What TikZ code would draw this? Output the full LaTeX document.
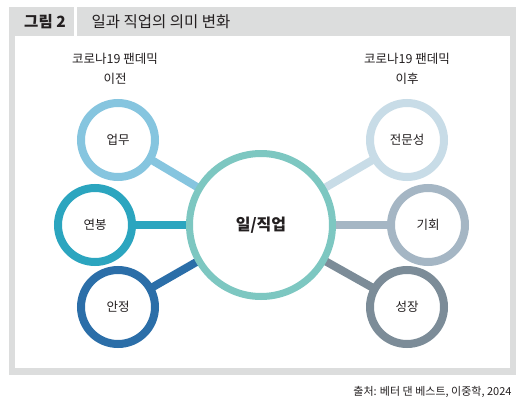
\documentclass[tikz,border=0pt]{standalone}
\usepackage{fontspec}
\setmainfont{Noto Sans CJK KR}
\usetikzlibrary{backgrounds}

\definecolor{framegray}{HTML}{DCDDDD}
\definecolor{textblack}{HTML}{231F20}
\definecolor{workteal}{HTML}{7DC7C1}
\definecolor{dutyblue}{HTML}{86C5DF}
\definecolor{payteal}{HTML}{2BA5BF}
\definecolor{safeblue}{HTML}{2B6EA8}
\definecolor{skillgray}{HTML}{C8DCE7}
\definecolor{chancegray}{HTML}{A5B6C4}
\definecolor{growgray}{HTML}{7C8C98}

\tikzset{
  ring/.style={circle, draw, fill=white, line width=8pt, minimum size=74pt,
    inner sep=0pt, text=textblack, font=\fontsize{12.5}{15}\selectfont},
  link/.style={line width=8pt},
  period/.style={align=center, text=textblack, font=\fontsize{12.5}{20}\selectfont},
}

\begin{document}
\begin{tikzpicture}[x=1pt, y=-1pt]
  \useasboundingbox (0,0) rectangle (519,404);

  % frame
  \begin{pgfonlayer}{background}
    \fill[framegray] (9,7) rectangle (516,375);
    \fill[white] (15,36) rectangle (510,368);
    \fill[white] (74,7) rectangle (77,36);
  \end{pgfonlayer}
  \node[text=textblack, font=\fontsize{15.5}{18}\selectfont\bfseries] (fig) at (45,22) {그림 2};
  \node[anchor=west, text=textblack, font=\fontsize{15.5}{18}\selectfont] (title) at (88,22) {일과 직업의 의미 변화};

  % before / after
  \node[period] (before) at (115,68.5) {코로나19 팬데믹\\이전};
  \node[period] (after) at (407,68.5) {코로나19 팬데믹\\이후};

  % circles
  \node[ring, draw=workteal, line width=7pt, minimum size=143pt,
    font=\fontsize{16}{19}\selectfont\bfseries] (work) at (261,225) {일/직업};
  \node[ring, draw=dutyblue] (duty) at (118,140) {업무};
  \node[ring, draw=payteal] (pay) at (95,225) {연봉};
  \node[ring, draw=safeblue] (safe) at (118,307) {안정};
  \node[ring, draw=skillgray] (skill) at (407,140) {전문성};
  \node[ring, draw=chancegray] (chance) at (428,225) {기회};
  \node[ring, draw=growgray] (grow) at (407,307) {성장};

  % links
  \begin{pgfonlayer}{background}
    \foreach \n/\c in {duty/dutyblue, pay/payteal, safe/safeblue,
                       skill/skillgray, chance/chancegray, grow/growgray}
      \draw[link, \c] (\n.center) -- (work.center);
  \end{pgfonlayer}

  % source
  \node[anchor=east, text=textblack, font=\fontsize{11}{13}\selectfont] (src) at (515,392) {출처: 베터 댄 베스트, 이중학, 2024};
\end{tikzpicture}
\end{document}
